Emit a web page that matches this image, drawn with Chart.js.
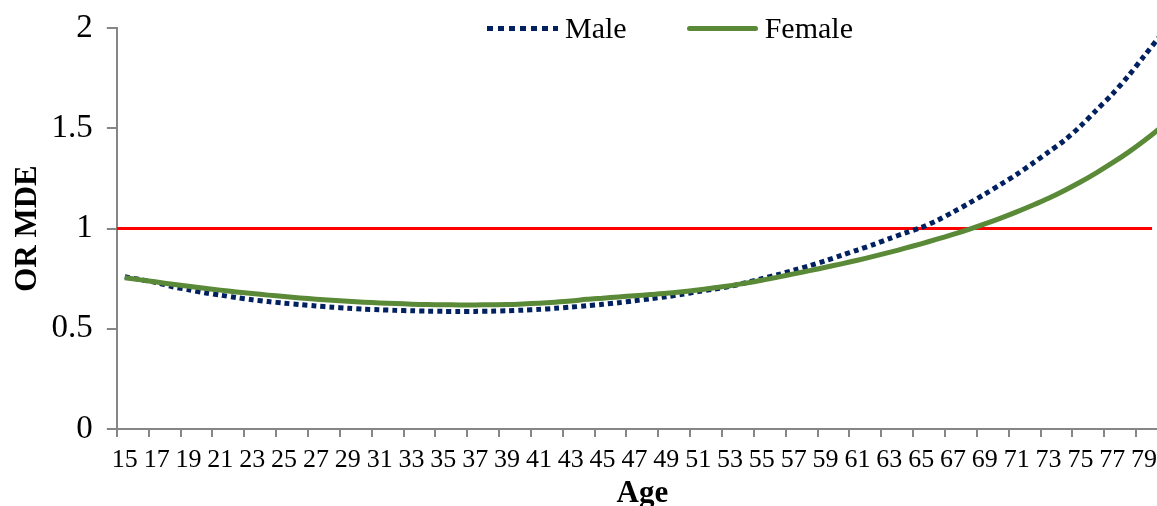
<!DOCTYPE html>
<html>
<head>
<meta charset="utf-8">
<script src="https://cdn.jsdelivr.net/npm/chart.js@4.4.1/dist/chart.umd.min.js"></script>
<style>
  html, body { margin: 0; padding: 0; background: #fff; width: 1157px; height: 506px; overflow: hidden; }
  #wrap { position: relative; width: 1170px; height: 506px; }
  #legend { position: absolute; left: 487px; top: 13px; height: 30px; display: flex; align-items: center;
            font-family: 'Liberation Serif', 'Times New Roman', serif; font-size: 30px; color: #000; }
  .swatch { width: 71px; height: 5px; margin-right: 7px; }
  .male { background: repeating-linear-gradient(to right, #002060 0 6px, transparent 6px 11px); }
  .female { background: #5a8a37; border-radius: 3px; margin-left: 60px; }
</style>
</head>
<body>
<div id="wrap">
  <canvas id="chartAge"></canvas>
  <div id="legend">
    <span class="swatch male"></span><span>Male</span>
    <span class="swatch female"></span><span>Female</span>
  </div>
</div>
<script>
const ages = [15, 16, 17, 18, 19, 20, 21, 22, 23, 24, 25, 26, 27, 28, 29, 30, 31, 32, 33, 34, 35, 36, 37, 38, 39, 40,
  41, 42, 43, 44, 45, 46, 47, 48, 49, 50, 51, 52, 53, 54, 55, 56, 57, 58, 59, 60, 61, 62, 63, 64, 65,
  66, 67, 68, 69, 70, 71, 72, 73, 74, 75, 76, 77, 78, 79, 80];

const male = [0.760, 0.745, 0.730, 0.710, 0.695, 0.680, 0.668, 0.656, 0.645, 0.636, 0.628, 0.621, 0.614, 0.608, 0.603,
  0.598, 0.595, 0.592, 0.590, 0.588, 0.587, 0.587, 0.587, 0.588, 0.590, 0.593, 0.597, 0.602, 0.608, 0.615,
  0.622, 0.630, 0.640, 0.650, 0.660, 0.672, 0.686, 0.698, 0.712, 0.730, 0.750, 0.770, 0.792, 0.815, 0.840,
  0.866, 0.893, 0.920, 0.950, 0.978, 1.005, 1.040, 1.082, 1.126, 1.172, 1.220, 1.270, 1.325, 1.382, 1.440,
  1.510, 1.590, 1.670, 1.760, 1.860, 1.960];

const female = [0.755, 0.744, 0.733, 0.722, 0.712, 0.702, 0.693, 0.684, 0.676, 0.668, 0.661, 0.654, 0.648, 0.643, 0.638,
  0.633, 0.629, 0.626, 0.623, 0.621, 0.620, 0.619, 0.619, 0.620, 0.621, 0.624, 0.628, 0.633, 0.639, 0.647,
  0.653, 0.659, 0.665, 0.671, 0.677, 0.685, 0.694, 0.705, 0.715, 0.728, 0.742, 0.758, 0.774, 0.790, 0.807,
  0.824, 0.842, 0.861, 0.881, 0.902, 0.924, 0.947, 0.971, 0.996, 1.023, 1.052, 1.083, 1.116, 1.151, 1.190,
  1.232, 1.278, 1.327, 1.380, 1.438, 1.500];

const refLevel = 1;
const refFromAge = 15;
const refToAge = 79;

const axisGray = "#868686";
const serif = "'Liberation Serif', 'Times New Roman', serif";

// red reference line at OR = 1, spanning whole categories refFromAge..refToAge
const refLine = {
    id: "refLine",
    beforeDatasetsDraw(chart) {
        const x = chart.scales.x, y = chart.scales.y;
        const half = (x.getPixelForValue(1) - x.getPixelForValue(0)) / 2;
        const x0 = x.getPixelForValue(ages.indexOf(refFromAge)) - half;
        const x1 = x.getPixelForValue(ages.indexOf(refToAge)) + half;
        const py = y.getPixelForValue(refLevel);
        const ctx = chart.ctx;
        ctx.save();
        ctx.strokeStyle = "#ff0000";
        ctx.lineWidth = 3;
        ctx.beginPath();
        ctx.moveTo(x0, py);
        ctx.lineTo(x1, py);
        ctx.stroke();
        ctx.restore();
    }
};

new Chart(document.getElementById("chartAge"), {
    type: "line",
    data: {
        labels: ages,
        datasets: [
            {
                label: "Male",
                data: male,
                borderColor: "#002060",
                borderWidth: 5,
                borderDash: [5, 4],
                borderCapStyle: "butt",
                pointRadius: 0,
                tension: 0.3,
                order: 1
            },
            {
                label: "Female",
                data: female,
                borderColor: "#5a8a37",
                borderWidth: 5,
                pointRadius: 0,
                tension: 0.3,
                order: 0
            }
        ]
    },
    options: {
        responsive: true,
        maintainAspectRatio: false,
        animation: false,
        layout: { padding: { top: 28, left: 6, right: 2, bottom: 1 } },
        plugins: { legend: { display: false }, tooltip: { enabled: false } },
        scales: {
            x: {
                offset: true,
                grid: {
                    offset: true,
                    drawOnChartArea: false,
                    tickLength: 8,
                    lineWidth: 2,
                    color: ctx => ctx.index % 2 === 0 ? axisGray : "rgba(0,0,0,0)"
                },
                border: { color: axisGray, width: 2 },
                ticks: {
                    autoSkip: false,
                    maxRotation: 0,
                    minRotation: 0,
                    padding: 7.5,
                    color: "#000",
                    font: { family: serif, size: 26, lineHeight: 1.2 },
                    callback: function(v, i) { return i % 2 === 0 ? this.getLabelForValue(v) : ""; }
                },
                title: {
                    display: true,
                    text: "Age",
                    color: "#000",
                    font: { family: serif, size: 31, weight: "bold", lineHeight: 0.7 },
                    padding: 0
                }
            },
            y: {
                min: 0,
                max: 2,
                grid: { drawOnChartArea: false, tickLength: 10, lineWidth: 2, color: axisGray },
                border: { color: axisGray, width: 2 },
                ticks: {
                    stepSize: 0.5,
                    padding: 14,
                    color: "#000",
                    font: { family: serif, size: 33, lineHeight: 0.8 },
                    callback: v => String(v)
                },
                title: {
                    display: true,
                    text: "OR MDE",
                    color: "#000",
                    font: { family: serif, size: 31, weight: "bold", lineHeight: 0.6 },
                    padding: { top: 13, bottom: 0 }
                }
            }
        }
    },
    plugins: [refLine]
});
</script>
</body>
</html>
